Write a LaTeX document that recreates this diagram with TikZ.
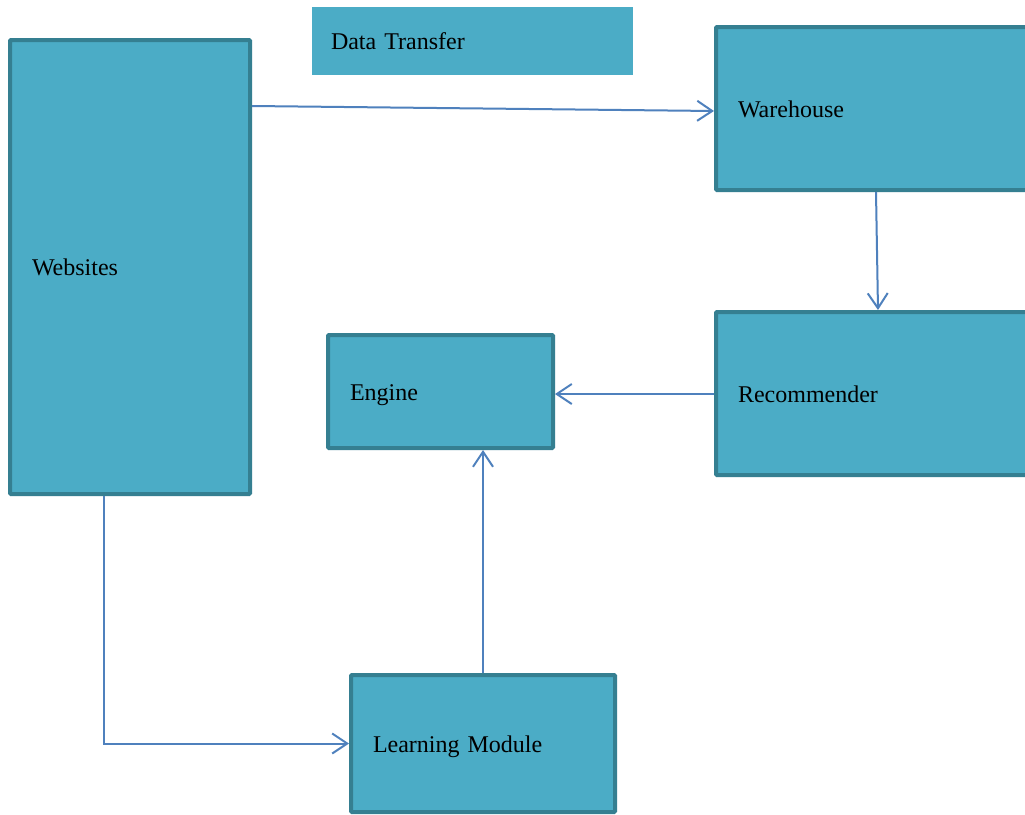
\documentclass[tikz,border=0pt]{standalone}
\usepackage{fontspec}
\setmainfont{Liberation Serif}
\usetikzlibrary{arrows.meta}
\definecolor{boxfill}{HTML}{4BACC6}
\definecolor{boxline}{HTML}{357F91}
\definecolor{arrowc}{HTML}{4F81BD}
\tikzset{
  box/.style={draw=boxline, line width=4pt, fill=boxfill, rectangle, rounded corners=1pt,
    inner xsep=22pt, align=left, font=\fontsize{24}{28}\selectfont,
    text height=17pt, text depth=0pt, text width=#1},
  flat/.style={fill=boxfill, rectangle, inner xsep=19pt, align=left,
    font=\fontsize{24}{28}\selectfont, text height=17pt, text depth=0pt, text width=#1},
  conn/.style={draw=arrowc, line width=2pt, -{Straight Barb[length=15pt,width=20pt,line width=2pt]}}
}
\begin{document}
\begin{tikzpicture}[x=1pt,y=-1pt]
\clip (0,0) rectangle (1025,814);
\fill[white] (0,0) rectangle (1025,814);
\node[box=196pt, minimum width=240pt, minimum height=454pt] (websites) at (130,267) {Websites};
\node[flat=283pt, minimum width=321pt, minimum height=68pt] (transfer) at (472.5,41) {Data Transfer};
\node[box=280pt, minimum width=324pt, minimum height=163pt] (warehouse) at (878,108.5) {Warehouse};
\node[box=280pt, minimum width=324pt, minimum height=163pt] (recommender) at (878,393.5) {Recommender};
\node[box=181pt, minimum width=225pt, minimum height=113pt] (engine) at (440.5,391.5) {Engine};
\node[box=220pt, minimum width=264pt, minimum height=137pt] (learning) at (483,743.5) {Learning Module};
\draw[conn] ([yshift=-68pt]websites.north east) -- ([yshift=-2.5pt]warehouse.west);
\draw[conn] ([xshift=-2pt]warehouse.south) -- (recommender.north);
\draw[conn] ([yshift=-0.5pt]recommender.west) -- ([yshift=-0.5pt]engine.east |- recommender.west);
\draw[conn] (learning.north) -- (learning.north |- engine.south);
\draw[conn] ([xshift=-26pt]websites.south) |- (learning.west);
\end{tikzpicture}
\end{document}
